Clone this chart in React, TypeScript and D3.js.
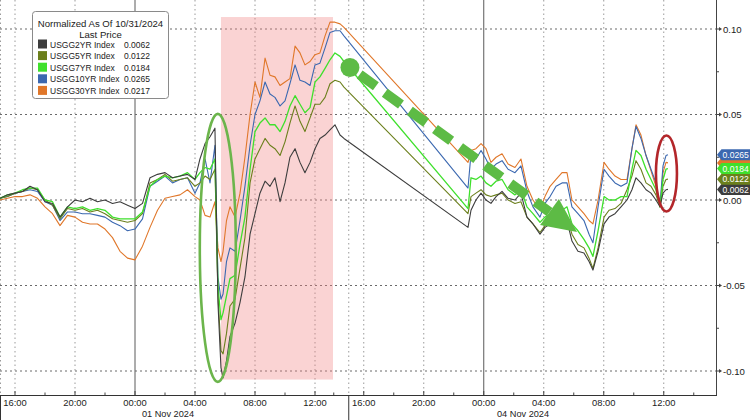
import * as d3 from "d3";

// chart hours: 0 = 31 Oct 15:00, 15 px per hour; weekend removed at the session break
const hours = [
  0, 0.5, 1, 1.5, 2, 2.5, 3, 3.5, 4, 4.5, 5, 5.5, 6, 6.5, 7, 7.5, 8, 8.5, 9, 9.5,
  10, 10.5, 11, 11.5, 12, 12.5, 13, 13.33, 13.67, 14, 14.33, 14.53, 14.73, 14.87, 15.1, 15.33,
  15.67, 16, 16.33, 16.67, 17, 17.33, 17.67, 18, 18.33, 18.67, 19, 19.33, 19.67, 20,
  20.33, 20.67, 21, 21.33, 21.67, 22, 22.33, 22.67, 22.93,
  31.2, 31.4, 31.73, 32.07, 32.4, 32.73, 33.07, 33.47, 33.87, 34.33, 34.73, 35.13, 35.53,
  36.0, 36.33, 36.67, 37.07, 37.47, 37.8, 38.13, 38.53, 38.93, 39.27, 39.53, 39.87, 40.27,
  40.6, 41.0, 41.4, 41.8, 42.13, 42.4, 42.73, 43.07, 43.4, 43.73, 44.0, 44.2, 44.4, 44.53,
];

const usgg2 = [
  0.001, 0.003, 0.004, 0.005, 0.008, 0.006, -0.001, -0.002, -0.010, -0.004, 0.000, -0.001, 0.001, -0.001, 0.000, -0.002, -0.001, -0.003, -0.005, -0.002,
  0.013, 0.015, 0.016, 0.013, 0.014, 0.015, 0.012, 0.024, 0.033, 0.037, 0.042, -0.060, -0.098, -0.104, -0.094, -0.080,
  -0.072, -0.060, -0.045, -0.020, -0.008, 0.004, 0.011, 0.008, 0.013, -0.001, 0.010, 0.025, 0.030, 0.022,
  0.016, 0.022, 0.030, 0.036, 0.038, 0.041, 0.044, 0.038, 0.036,
  -0.016, -0.006, 0.000, 0.004, 0.000, -0.002, 0.002, 0.005, 0.001, 0.000, 0.004, -0.010, -0.014,
  -0.020, -0.016, -0.014, -0.012, -0.014, -0.012, -0.024, -0.030, -0.031, -0.036, -0.041, -0.030, -0.014,
  -0.010, -0.008, -0.004, 0.000, 0.006, 0.013, 0.010, 0.006, 0.004, 0.000, -0.004, 0.004, 0.006, 0.0062,
];

const usgg5 = [
  0.001, 0.002, 0.004, 0.005, 0.007, 0.006, 0.000, -0.003, -0.011, -0.005, -0.006, -0.005, -0.007, -0.006, -0.008, -0.011, -0.012, -0.013, -0.012, -0.008,
  0.010, 0.012, 0.015, 0.011, 0.012, 0.013, 0.008, 0.010, 0.014, 0.012, 0.018, -0.055, -0.088, -0.090, -0.078, -0.062,
  -0.058, -0.040, -0.022, 0.010, 0.024, 0.030, 0.036, 0.032, 0.030, 0.026, 0.034, 0.045, 0.055, 0.046,
  0.040, 0.048, 0.056, 0.056, 0.060, 0.068, 0.070, 0.069, 0.066,
  -0.008, 0.002, 0.004, 0.006, 0.003, 0.002, 0.003, 0.004, 0.000, -0.002, -0.001, -0.010, -0.014,
  -0.019, -0.015, -0.012, -0.010, -0.012, -0.010, -0.020, -0.026, -0.028, -0.034, -0.040, -0.028, -0.010,
  -0.006, -0.005, -0.002, 0.006, 0.014, 0.023, 0.018, 0.010, 0.008, 0.003, -0.004, 0.008, 0.012, 0.0122,
];

const usgg7 = [
  0.001, 0.003, 0.004, 0.006, 0.007, 0.007, 0.000, -0.001, -0.010, -0.004, -0.005, -0.004, -0.006, -0.005, -0.006, -0.010, -0.011, -0.011, -0.011, -0.007,
  0.008, 0.012, 0.014, 0.013, 0.014, 0.016, 0.012, 0.016, 0.019, 0.018, 0.024, -0.050, -0.070, -0.066, -0.056, -0.046,
  -0.044, -0.026, -0.010, 0.018, 0.040, 0.045, 0.048, 0.044, 0.044, 0.040, 0.046, 0.055, 0.061, 0.056,
  0.051, 0.054, 0.069, 0.072, 0.077, 0.082, 0.086, 0.084, 0.081,
  -0.005, 0.013, 0.012, 0.014, 0.010, 0.008, 0.011, 0.012, 0.006, 0.003, 0.006, -0.004, -0.008,
  -0.013, -0.010, -0.008, -0.006, -0.006, -0.004, -0.014, -0.018, -0.023, -0.028, -0.033, -0.018, 0.002,
  0.000, 0.000, 0.002, 0.002, 0.018, 0.029, 0.026, 0.018, 0.012, 0.006, -0.004, 0.012, 0.018, 0.0184,
];

const usgg10 = [
  0.001, 0.002, 0.004, 0.005, 0.006, 0.005, -0.001, -0.003, -0.012, -0.007, -0.007, -0.008, -0.008, -0.009, -0.010, -0.013, -0.015, -0.018, -0.017, -0.011,
  0.008, 0.011, 0.014, 0.010, 0.012, 0.013, 0.004, 0.010, 0.024, 0.010, 0.032, -0.045, -0.058, -0.055, -0.036, -0.028,
  -0.030, -0.012, 0.008, 0.032, 0.050, 0.058, 0.069, 0.062, 0.060, 0.055, 0.058, 0.068, 0.079, 0.070,
  0.069, 0.067, 0.079, 0.080, 0.089, 0.098, 0.099, 0.099, 0.096,
  0.007, 0.027, 0.024, 0.029, 0.024, 0.018, 0.021, 0.023, 0.018, 0.016, 0.020, 0.005, -0.004,
  -0.010, -0.002, 0.002, 0.008, 0.010, 0.010, -0.004, -0.008, -0.012, -0.020, -0.025, -0.004, 0.018,
  0.014, 0.010, 0.008, 0.010, 0.030, 0.043, 0.036, 0.026, 0.018, 0.010, -0.003, 0.020, 0.026, 0.0265,
];

const usgg30 = [
  0.000, 0.001, 0.002, 0.002, 0.003, 0.001, -0.004, -0.008, -0.015, -0.009, -0.010, -0.013, -0.014, -0.014, -0.017, -0.022, -0.030, -0.034, -0.035, -0.027,
  -0.016, -0.006, 0.001, 0.002, 0.003, 0.006, 0.002, 0.000, -0.009, -0.010, -0.001, -0.028, -0.036, -0.030, -0.012, -0.004,
  -0.010, 0.004, 0.025, 0.050, 0.069, 0.060, 0.083, 0.073, 0.072, 0.067, 0.069, 0.071, 0.090, 0.086,
  0.079, 0.081, 0.085, 0.086, 0.096, 0.104, 0.104, 0.103, 0.101,
  0.022, 0.029, 0.030, 0.033, 0.030, 0.022, 0.025, 0.027, 0.021, 0.019, 0.024, 0.008, 0.000,
  -0.006, 0.002, 0.008, 0.012, 0.016, 0.016, 0.000, -0.004, -0.008, -0.012, -0.014, 0.000, 0.022,
  0.018, 0.014, 0.012, 0.012, 0.030, 0.044, 0.038, 0.026, 0.017, 0.008, -0.004, 0.016, 0.022, 0.0217,
];

const seriesNames = ["USGG2YR Index", "USGG5YR Index", "USGG7YR Index", "USGG10YR Index", "USGG30YR Index"];
const seriesValues = [usgg2, usgg5, usgg7, usgg10, usgg30];
const lastPrices = ["0.0062", "0.0122", "0.0184", "0.0265", "0.0217"];
const seriesColors = ["#3d3d3d", "#6b7f1c", "#3fe02c", "#3b68b0", "#e0772a"];
const drawOrder = [4, 3, 1, 2, 0];
// tags stacked bottom to top; the 30Y tag sits underneath the others, so only its edge shows
const tagOrder = [4, 0, 1, 2, 3];
const hiddenTag = 4;

const tickHours = [1, 5, 9, 13, 17, 21, 24.25, 28.25, 32.25, 36.25, 40.25, 44.25];
const tickLabels = ["16:00", "20:00", "00:00", "04:00", "08:00", "12:00", "16:00", "20:00", "00:00", "04:00", "08:00", "12:00"];
const minorHours = [3, 7, 11, 15, 19, 22.25, 26.25, 30.25, 34.25, 38.25, 42.25, 46.25];
const dayBoundaryHours = [9, 32.25];
const sessionBreakHour = 23.25;
const dayLabels = ["01 Nov 2024", "04 Nov 2024"];
const dayLabelHours = [11.2, 34.87];

const yTicks = [0.1, 0.05, 0, -0.05, -0.1];
const yMinor = [0.075, 0.025, -0.025, -0.075];

const W = 750;
const H = 420;
const plotRight = 716;
const plotBottom = 395;
const font = "'Liberation Sans', Arial, sans-serif";

export default function App() {
  const x = d3.scaleLinear().domain([0, plotRight / 15]).range([0, plotRight]);
  const y = d3.scaleLinear().domain([-0.1, 0.1]).range([371, 29]);

  const line = (vals: number[]) =>
    d3.line<number>().x((_, i) => x(hours[i])).y((d) => y(d))(vals) ?? "";

  // annotations placed in data coordinates
  const shadeX0 = x(14.73), shadeX1 = x(22.2);
  const shadeY0 = y(0.107), shadeY1 = y(-0.105);
  const greenEll = { cx: x(14.52), cy: y(-0.028), rx: 18, ry: 134 };
  const redEll = { cx: x(44.43), cy: y(0.0155), rx: 10.5, ry: 38 };
  const a0 = [x(23.33), y(0.0775)];
  const tip = [x(38.47), y(-0.0187)];
  const ang = Math.atan2(tip[1] - a0[1], tip[0] - a0[0]);
  const headLen = 34, headHalf = 16;
  const base = [tip[0] - headLen * Math.cos(ang), tip[1] - headLen * Math.sin(ang)];
  const px = -Math.sin(ang), py = Math.cos(ang);
  const head = [
    [tip[0], tip[1]],
    [base[0] + headHalf * px, base[1] + headHalf * py],
    [base[0] - headHalf * px, base[1] - headHalf * py],
  ];
  const arrowGreen = "#5dbb45";

  return (
    <svg width={W} height={H} style={{ position: "absolute", left: 0, top: 0, background: "#fff" }}>
      <defs>
        <clipPath id="plot">
          <rect x={0} y={0} width={plotRight} height={plotBottom} />
        </clipPath>
      </defs>
      <rect x={0} y={0} width={W} height={H} fill="#fff" />

      {/* grid */}
      {tickHours.map((h, i) => (
        <line key={"vg" + i} x1={x(h)} x2={x(h)} y1={0} y2={plotBottom}
          stroke={dayBoundaryHours.includes(h) ? "#5a5a5a" : "#9a9a9a"}
          strokeWidth={1}
          strokeDasharray={dayBoundaryHours.includes(h) ? undefined : "1.5,3"} />
      ))}
      <line x1={x(sessionBreakHour)} x2={x(sessionBreakHour)} y1={0} y2={plotBottom}
        stroke="#9a9a9a" strokeDasharray="1.5,3" />
      <line x1={0.5} x2={0.5} y1={0} y2={plotBottom} stroke="#9a9a9a" strokeDasharray="1.5,3" />
      {yTicks.map((v, i) => (
        <line key={"hg" + i} x1={0} x2={plotRight} y1={y(v)} y2={y(v)}
          stroke="#6a6a6a" strokeDasharray="2,3" />
      ))}

      {/* shaded period */}
      <rect x={shadeX0} y={shadeY0} width={shadeX1 - shadeX0} height={shadeY1 - shadeY0}
        fill="rgb(240,130,130)" fillOpacity={0.35} />

      {/* series */}
      <g clipPath="url(#plot)">
        {drawOrder.map((k) => (
          <path key={"s" + k} d={line(seriesValues[k])} fill="none"
            stroke={seriesColors[k]} strokeWidth={k === 2 ? 1.3 : 1.1} strokeLinejoin="round" />
        ))}
      </g>

      {/* annotations */}
      <ellipse cx={greenEll.cx} cy={greenEll.cy} rx={greenEll.rx} ry={greenEll.ry}
        fill="none" stroke="#6cb54c" strokeWidth={2.6} />
      <ellipse cx={redEll.cx} cy={redEll.cy} rx={redEll.rx} ry={redEll.ry}
        fill="none" stroke="#b3262a" strokeWidth={2.6} />
      <line x1={a0[0]} y1={a0[1]} x2={base[0]} y2={base[1]} stroke={arrowGreen}
        strokeWidth={10} strokeDasharray="20,11" strokeDashoffset={-12} />
      <circle cx={a0[0]} cy={a0[1]} r={9.5} fill={arrowGreen} />
      <polygon points={head.map((p) => p.join(",")).join(" ")} fill={arrowGreen} />

      {/* legend */}
      <g fontFamily={font} fill="#222">
        <rect x={32.5} y={11.5} width={136} height={87} rx={3} fill="#fff" stroke="#8a8a8a" />
        <text x={100.5} y={27} fontSize={9.6} textAnchor="middle">Normalized As Of 10/31/2024</text>
        <text x={100.5} y={38} fontSize={9.6} textAnchor="middle">Last Price</text>
        {seriesNames.map((n, i) => (
          <g key={"lg" + i} transform={`translate(0,${44 + i * 11.6})`}>
            <rect x={38} y={-4.5} width={9} height={9} fill={seriesColors[i]} />
            <text x={50} y={3.5} fontSize={8.5}>{n}</text>
            <text x={124} y={3.5} fontSize={8.5}>{lastPrices[i]}</text>
          </g>
        ))}
      </g>

      {/* right axis */}
      <line x1={plotRight + 0.5} x2={plotRight + 0.5} y1={0} y2={plotBottom} stroke="#444" />
      {yTicks.map((v, i) => (
        <g key={"yt" + i} transform={`translate(${plotRight},${y(v)})`}>
          <path d="M0,-0.5 L4,-0.5 L6,0 L4,0.5 L0,0.5 Z M3,-2 L6,0 L3,2 Z" fill="#444" />
          <text x={7} y={3.5} fontSize={9.6} fontFamily={font} fill="#222">{v.toFixed(2)}</text>
        </g>
      ))}
      {yMinor.map((v, i) => (
        <line key={"ym" + i} x1={plotRight} x2={plotRight + 3} y1={y(v)} y2={y(v)} stroke="#444" />
      ))}

      {/* last price tags */}
      {tagOrder.map((k) => {
        const ty = y(+lastPrices[k]);
        return (
          <g key={"tag" + k} transform={`translate(${plotRight + 1},${ty})`}>
            <path d="M0,0 L4.5,-5.5 L40,-5.5 L40,5.5 L4.5,5.5 Z" fill={seriesColors[k]} />
            {k !== hiddenTag && (
              <text x={5.5} y={3.3} fontSize={8.6} fontFamily={font} fill="#fff">{lastPrices[k]}</text>
            )}
          </g>
        );
      })}

      {/* bottom axis */}
      <line x1={0} x2={plotRight + 1} y1={plotBottom + 0.5} y2={plotBottom + 0.5} stroke="#333" />
      <line x1={0.5} x2={0.5} y1={plotBottom} y2={H} stroke="#333" />
      <line x1={x(sessionBreakHour)} x2={x(sessionBreakHour)} y1={plotBottom} y2={H} stroke="#333" />
      {tickHours.map((h, i) => (
        <g key={"xt" + i}>
          <line x1={x(h)} x2={x(h)} y1={plotBottom - 4} y2={plotBottom} stroke="#444" />
          <text x={x(h)} y={plotBottom + 11} fontSize={9.4} fontFamily={font} textAnchor="middle" fill="#222">
            {tickLabels[i]}
          </text>
        </g>
      ))}
      {minorHours.map((h, i) => (
        <line key={"xm" + i} x1={x(h)} x2={x(h)} y1={plotBottom - 2.5} y2={plotBottom} stroke="#444" />
      ))}
      {dayLabels.map((d, i) => (
        <text key={"dl" + i} x={x(dayLabelHours[i])} y={plotBottom + 22} fontSize={9.2}
          fontFamily={font} textAnchor="middle" fill="#222">{d}</text>
      ))}
    </svg>
  );
}
